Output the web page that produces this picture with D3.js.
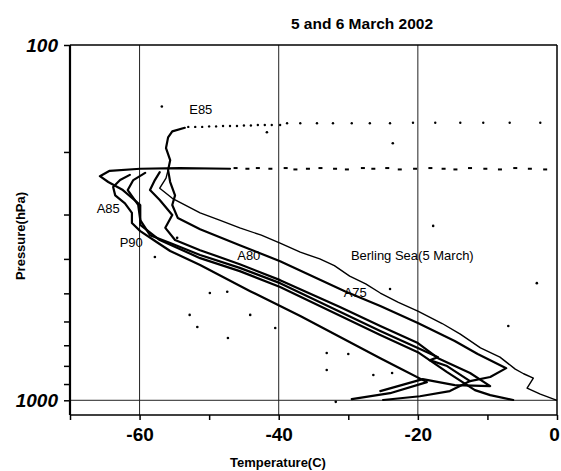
<!DOCTYPE html>
<html>
<head>
<meta charset="utf-8">
<script src="https://cdn.jsdelivr.net/npm/d3@7"></script>
<style>
  html, body { margin: 0; padding: 0; background: #fff; }
  svg { display: block; }
  text { font-family: "Liberation Sans", Arial, sans-serif; fill: #000; }
  .tick-lab { font-family: "Liberation Sans Narrow", "Liberation Sans", Arial, sans-serif; font-weight: bold; }
</style>
</head>
<body>
<svg id="chart" width="561" height="471"></svg>
<script>
// Temperature soundings, 5 and 6 March 2002: [temperature °C, pressure hPa], surface upward
const beringSea = [[0,1000],[-2.4,961],[-4.3,924],[-3.4,866],[-4.8,842],[-6.0,817],[-8.2,756],[-11.0,712],[-13.9,651],[-16.5,608],[-20.0,561],[-22.8,530],[-25.4,499],[-27.5,470],[-29.8,447],[-32.0,418],[-34.1,400],[-36.9,383],[-39.8,361],[-42.5,343],[-45.6,327],[-48.5,311],[-51.3,297],[-55.3,270],[-57.1,253],[-56.2,237],[-55.9,225]];
const e85 = [[-12.5,883],[-9.6,860],[-7.3,812],[-11.4,741],[-14.7,681],[-20.0,606],[-25.4,543],[-30.5,493],[-39.8,406],[-45.6,366],[-51.3,330],[-54.5,307],[-55.3,282],[-54.9,265],[-55.6,243],[-55.9,225],[-55.6,211],[-56.2,195],[-55.9,182],[-55.3,175],[-53.5,171]];
const e85Upper = [[-53,170],[-52,170],[-51,170],[-50,169.5],[-49,169.5],[-48,169],[-47,169],[-46,169],[-45,168.5],[-44,168.5],[-43,168],[-42,168],[-41,168],[-39.8,168],[-38.8,166],[-36.9,166],[-34.5,166],[-32.2,166],[-29.5,166],[-26.9,166],[-24.0,166],[-20.7,165.5],[-17.5,165.5],[-13.9,165.5],[-10.6,165.5],[-6.8,165.5],[-2.4,165.5]];
const a80 = [[-25.4,942],[-19.3,872],[-14.7,906],[-9.6,912],[-12.5,838],[-17.1,761],[-20.0,690],[-25.4,618],[-31.2,546],[-39.8,459],[-45.6,414],[-51.3,378],[-54.9,354],[-56.3,327],[-55.3,301],[-57.1,273],[-58.5,256],[-57.8,240],[-57.1,228]];
const sounding4 = [[-25.0,998],[-19.7,974],[-15.4,942],[-12.5,883],[-15.8,801],[-18.3,771],[-17.1,756],[-20.0,713],[-25.4,638],[-39.8,468],[-45.6,424],[-51.3,390],[-55.6,361],[-58.5,343],[-59.9,311],[-60.2,282],[-61.7,256],[-60.9,240],[-59.2,229]];
const a85 = [[-6.3,998],[-9.6,967],[-11.8,936],[-15.8,833],[-20.0,732],[-25.4,655],[-39.8,480],[-45.6,433],[-51.3,398],[-57.1,354],[-59.9,321],[-59.9,282],[-62.4,256],[-64.5,243],[-65.7,234],[-64.3,226],[-59.9,223],[-54.2,222],[-47.0,223]];
const a85Upper = [[-46.2,222],[-44.5,223],[-43.0,222],[-41.2,223],[-39.0,222],[-37.6,224],[-35.8,223],[-34.0,222],[-31.9,223],[-30.2,224],[-27.9,222],[-26.4,223],[-24.4,222],[-22.6,224],[-20.4,223],[-18.2,222],[-16.3,223],[-14.6,224],[-12.5,222],[-10.3,223],[-8.2,224],[-6.0,222],[-3.9,223],[-1.7,224]];
const p90 = [[-29.5,992],[-24.0,955],[-18.7,889],[-22.6,812],[-25.4,761],[-36.9,579],[-44.1,493],[-51.3,416],[-55.6,380],[-57.5,359],[-59.9,334],[-61.1,317],[-61.1,297],[-62.1,279],[-63.5,265],[-63.8,251],[-62.8,240],[-61.4,232]];
const strayPoints = [[-56.8,149],[-41.7,176],[-23.6,189],[-17.8,323],[-2.9,468],[-24.0,486],[-44.1,575],[-47.3,668],[-33.1,736],[-30.0,741],[-33.1,822],[-26.4,849],[-23.7,838],[-40.5,626],[-7.0,618],[-57.8,395],[-54.6,349],[-49.9,499],[-47.4,495],[-52.8,575],[-51.7,622],[-31.8,1010]];

// Axis ticks and labels
const tempTicks = [-70,-60,-50,-40,-30,-20,-10,0];
const tempLabels = [-60,-40,-20,0];
const tempGrid = [-60,-40,-20];
const presTicks = [100,200,300,400,500,600,700,800,900,1000];
const presLabels = [100,1000];
const presGrid = [1000];

const titleText = "5 and 6 March 2002";
const xTitle = "Temperature(C)";
const yTitle = "Pressure(hPa)";

// Profile names, anchored in data space
const annotations = [
  {text: "E85", t: -51.2, p: 153},
  {text: "A85", t: -64.5, p: 290},
  {text: "P90", t: -61.2, p: 363},
  {text: "A80", t: -44.3, p: 395},
  {text: "Berling Sea(5 March)", t: -20.8, p: 395},
  {text: "A75", t: -29.0, p: 502}
];

const svg = d3.select("#chart");
const x = d3.scaleLinear().domain([-70, 0]).range([70, 557]);
const y = d3.scaleLog().domain([100, 1100]).range([45, 415]);

// grid
const g = svg.append("g");
g.selectAll(".vgrid").data(tempGrid).join("line")
  .attr("x1", d => x(d)).attr("x2", d => x(d))
  .attr("y1", y(100)).attr("y2", y(1100))
  .attr("stroke", "#222").attr("stroke-width", 1);
g.selectAll(".hgrid").data(presGrid).join("line")
  .attr("x1", x(-70)).attr("x2", x(0))
  .attr("y1", d => y(d)).attr("y2", d => y(d))
  .attr("stroke", "#222").attr("stroke-width", 1);

// profiles
const line = d3.line().x(d => x(d[0])).y(d => y(d[1])).curve(d3.curveLinear);
const plot = svg.append("g");
[e85, a80, sounding4, a85, p90].forEach(s => {
  plot.append("path").attr("d", line(s)).attr("fill", "none")
    .attr("stroke", "#000").attr("stroke-width", 2.2)
    .attr("stroke-linejoin", "round").attr("stroke-linecap", "round");
});
plot.append("path").attr("d", line(beringSea)).attr("fill", "none")
  .attr("stroke", "#000").attr("stroke-width", 1.4).attr("stroke-linejoin", "round");

// upper-level sparse readings
plot.selectAll(".e85u").data(e85Upper).join("circle")
  .attr("cx", d => x(d[0])).attr("cy", d => y(d[1])).attr("r", 1.2).attr("fill", "#000");
plot.selectAll(".a85u").data(a85Upper).join("rect")
  .attr("x", d => x(d[0]) - 2).attr("y", d => y(d[1]) - 1)
  .attr("width", 4).attr("height", 2).attr("fill", "#000");
plot.selectAll(".stray").data(strayPoints).join("circle")
  .attr("cx", d => x(d[0])).attr("cy", d => y(d[1])).attr("r", 1.3).attr("fill", "#000");

// frame
const frame = svg.append("g").attr("fill", "none").attr("stroke", "#000");
frame.append("line").attr("x1", x(-70)).attr("x2", x(0)).attr("y1", y(100)).attr("y2", y(100)).attr("stroke-width", 1.5);
frame.append("line").attr("x1", x(-70)).attr("x2", x(0)).attr("y1", y(1100)).attr("y2", y(1100)).attr("stroke-width", 1.5);
frame.append("line").attr("x1", x(-70)).attr("x2", x(-70)).attr("y1", y(100)).attr("y2", y(1100)).attr("stroke-width", 2.2);
frame.append("line").attr("x1", x(0)).attr("x2", x(0)).attr("y1", y(100)).attr("y2", y(1100)).attr("stroke-width", 1.5);

// axes
const xAxis = svg.append("g").attr("transform", `translate(0,${y(1100)})`)
  .call(d3.axisBottom(x).tickValues(tempTicks).tickSize(5).tickPadding(8)
    .tickFormat(d => tempLabels.includes(d) ? d3.format("d")(d).replace("−", "-") : ""));
xAxis.select(".domain").remove();
xAxis.selectAll(".tick line").attr("stroke", "#000").attr("stroke-width", 1.5);
xAxis.selectAll(".tick text").attr("class", "tick-lab").attr("font-size", 19);
// keep the right-most label inside the canvas
xAxis.selectAll(".tick text").filter(d => d === 0).attr("dx", -3);

const yAxis = svg.append("g").attr("transform", `translate(${x(-70)},0)`)
  .call(d3.axisLeft(y).tickValues(presTicks).tickSize(6).tickPadding(6)
    .tickFormat(d => presLabels.includes(d) ? String(d) : ""));
yAxis.select(".domain").remove();
yAxis.selectAll(".tick line").attr("stroke", "#000").attr("stroke-width", 1.5);
yAxis.selectAll(".tick text").attr("class", "tick-lab").attr("font-size", 19).attr("font-style", "italic");

// labels
svg.selectAll(".ann").data(annotations).join("text")
  .attr("x", d => x(d.t)).attr("y", d => y(d.p))
  .attr("text-anchor", "middle").attr("dominant-baseline", "middle")
  .attr("font-size", 13).text(d => d.text);

svg.append("text").attr("x", 362).attr("y", 29).attr("text-anchor", "middle")
  .attr("font-size", 15.5).attr("font-weight", "bold").text(titleText);
svg.append("text").attr("x", 278).attr("y", 467).attr("text-anchor", "middle")
  .attr("font-size", 13).attr("font-weight", "bold").text(xTitle);
svg.append("text").attr("transform", "translate(25,236) rotate(-90)").attr("text-anchor", "middle")
  .attr("font-size", 13).attr("font-weight", "bold").text(yTitle);
</script>
</body>
</html>
